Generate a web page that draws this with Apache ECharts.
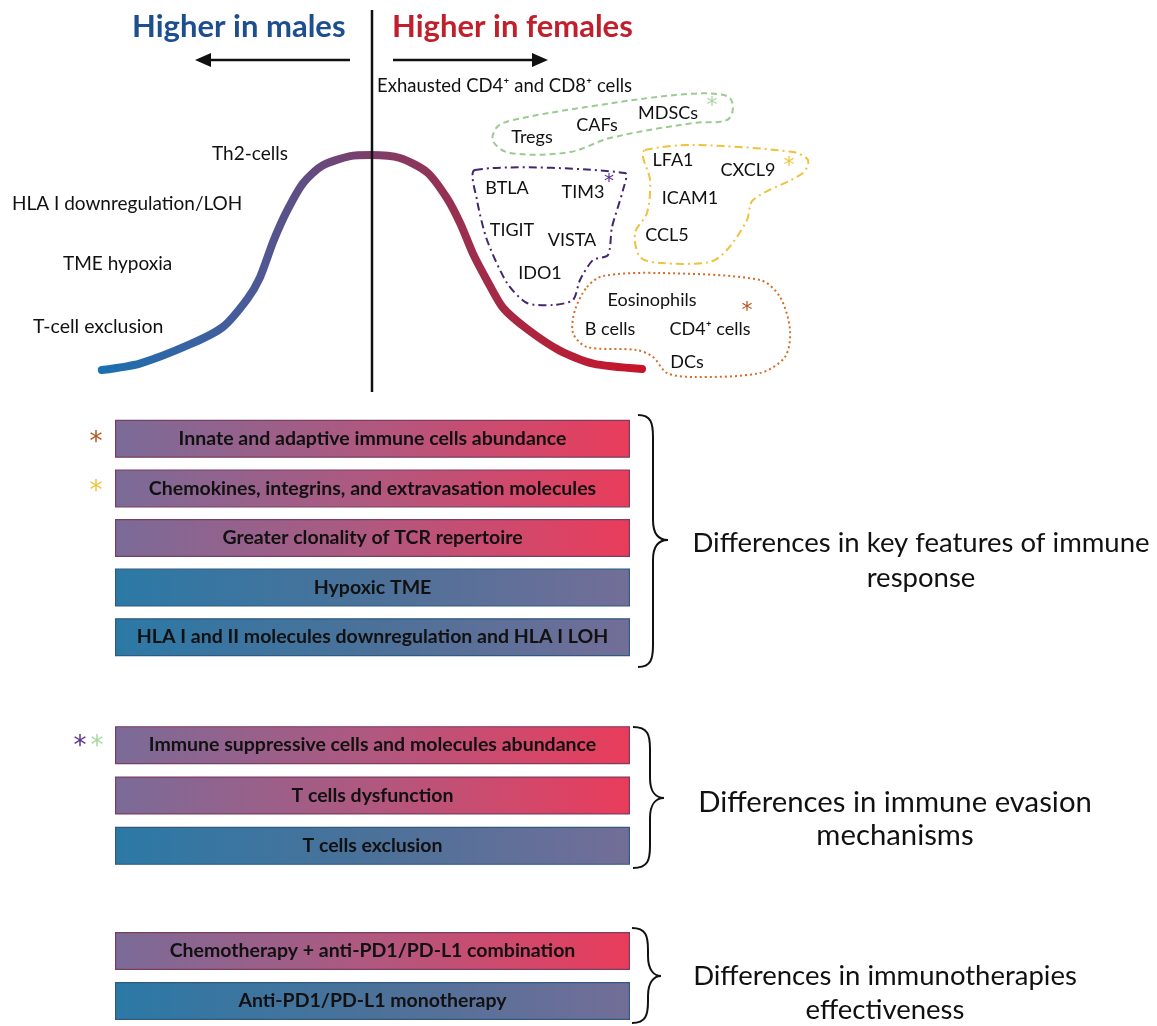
<!DOCTYPE html>
<html><head><meta charset="utf-8">
<script src="https://cdn.jsdelivr.net/npm/echarts@6/dist/echarts.min.js"></script>
<style>html,body{margin:0;padding:0;background:#fff}#c{width:1157px;height:1026px}</style>
</head><body><div id="c"></div>
<script>
// ---------- data ----------
const curveX = [-2.98, -2.56, -2.00, -1.64, -1.37, -1.23, -1.08, -0.93, -0.75, -0.54, -0.23, 0.00, 0.32, 0.62, 0.84, 0.99, 1.13, 1.28, 1.46, 1.73, 2.09, 2.46, 3.00];
const curveY = [0.00, 0.03, 0.12, 0.20, 0.33, 0.43, 0.60, 0.74, 0.87, 0.95, 0.995, 1.00, 0.986, 0.92, 0.80, 0.68, 0.54, 0.42, 0.29, 0.19, 0.09, 0.03, 0.005];
const titleMales = 'Higher in males';
const titleFemales = 'Higher in females';
const maleFeatures = ['Th2-cells', 'HLA I downregulation/LOH', 'TME hypoxia', 'T-cell exclusion'];
const exhaustedLabel = 'Exhausted CD4\u207A and CD8\u207A cells';
const greenGroup = ['Tregs', 'CAFs', 'MDSCs'];
const purpleGroup = ['BTLA', 'TIM3', 'TIGIT', 'VISTA', 'IDO1'];
const yellowGroup = ['LFA1', 'CXCL9', 'ICAM1', 'CCL5'];
const orangeGroup = ['Eosinophils', 'B cells', 'CD4\u207A cells', 'DCs'];
const responseFeatures = ['Innate and adaptive immune cells abundance', 'Chemokines, integrins, and extravasation molecules', 'Greater clonality of TCR repertoire', 'Hypoxic TME', 'HLA I and II molecules downregulation and HLA I LOH'];
const responseSide = ['F', 'F', 'F', 'M', 'M'];
const responseValues = [1, 1, 1, 1, 1];
const evasionFeatures = ['Immune suppressive cells and molecules abundance', 'T cells dysfunction', 'T cells exclusion'];
const evasionSide = ['F', 'F', 'M'];
const evasionValues = [1, 1, 1];
const therapyFeatures = ['Chemotherapy + anti-PD1/PD-L1 combination', 'Anti-PD1/PD-L1 monotherapy'];
const therapySide = ['F', 'M'];
const therapyValues = [1, 1];
const sectionTitles = ['Differences in key features of immune\nresponse', 'Differences in immune evasion\nmechanisms', 'Differences in immunotherapies\neffectiveness'];

// ---------- styling ----------
const FONT = 'Lato';
const LG = echarts.graphic.LinearGradient;
function barFill(side) {
  return side === 'F'
    ? new LG(0, 0, 1, 0, [{offset: 0, color: '#7a6b98'}, {offset: 0.5, color: '#b1587f'}, {offset: 1, color: '#ea3c5b'}])
    : new LG(0, 0, 1, 0, [{offset: 0, color: '#2c79a6'}, {offset: 0.5, color: '#4b7199'}, {offset: 1, color: '#736e98'}]);
}
function barBorder(side) {
  return side === 'F' ? '#7d3c62' : '#2f5a82';
}
function barData(values, side) {
  return values.map((v, i) => ({value: v, itemStyle: {color: barFill(side[i]), borderColor: barBorder(side[i]), borderWidth: 1.2}}));
}
const barLabel = {show: true, position: 'inside', formatter: '{b}', color: '#111', fontFamily: FONT, fontWeight: 'bold', fontSize: 19.5};

function txt(text, x, y, opt) {
  return {type: 'text', x: x, y: y, z: 10, style: Object.assign({text: text, fontFamily: FONT, fontSize: 18, fill: '#111', align: 'left', verticalAlign: 'middle'}, (opt || {}))};
}
function star(x, y, color, size) {
  return txt('*', x, y, {align: 'center', fontSize: size, fontFamily: 'DejaVu Sans', fill: color});
}
function blob(points, stroke, dash, smooth) {
  return {type: 'polygon', z: 5, shape: {points: points, smooth: smooth}, style: {fill: 'none', stroke: stroke, lineWidth: 2, lineDash: dash}};
}
const braceStyle = {fill: 'none', stroke: '#111', lineWidth: 2};
function bz(x1, y1, c1x, c1y, c2x, c2y, x2, y2) {
  return {type: 'bezierCurve', z: 5, shape: {x1: x1, y1: y1, cpx1: c1x, cpy1: c1y, cpx2: c2x, cpy2: c2y, x2: x2, y2: y2}, style: braceStyle};
}
function ln(x1, y1, x2, y2) {
  return {type: 'line', z: 5, shape: {x1: x1, y1: y1, x2: x2, y2: y2}, style: braceStyle};
}
function brace(x0, xv, xt, y1, ym, y2) {
  return [
    bz(x0, y1, xv - 2, y1, xv, y1 + 8, xv, y1 + 22),
    ln(xv, y1 + 22, xv, ym - 20),
    bz(xv, ym - 20, xv, ym - 6, xv + 6, ym, xt, ym),
    bz(xt, ym, xv + 6, ym, xv, ym + 6, xv, ym + 20),
    ln(xv, ym + 20, xv, y2 - 22),
    bz(xv, y2 - 22, xv, y2 - 8, xv - 2, y2, x0, y2)
  ];
}
function arrow(xs, xe, y) {
  const d = xe < xs ? -1 : 1;
  return [
    {type: 'line', z: 5, shape: {x1: xs, y1: y, x2: xe - d * 8, y2: y}, style: {stroke: '#111', lineWidth: 2.5}},
    {type: 'polygon', z: 5, shape: {points: [[xe, y], [xe - d * 16, y - 7], [xe - d * 16, y + 7]]}, style: {fill: '#111'}}
  ];
}

const graphics = [
  txt(titleMales, 132, 27, {fontSize: 31, fontWeight: 'bold', fill: '#1d4f8f'}),
  txt(titleFemales, 392, 27, {fontSize: 31, fontWeight: 'bold', fill: '#c01f2c'}),
  {type: 'line', z: 6, shape: {x1: 372, y1: 10, x2: 372, y2: 392}, style: {stroke: '#111', lineWidth: 2.5}},
  ...arrow(350, 195, 60),
  ...arrow(393, 548, 60),
  txt(maleFeatures[0], 212, 154, {fontSize: 19}),
  txt(maleFeatures[1], 12, 204, {fontSize: 19}),
  txt(maleFeatures[2], 63, 264, {fontSize: 19}),
  txt(maleFeatures[3], 33, 327, {fontSize: 19.5}),
  txt(exhaustedLabel, 377, 86, {fontSize: 18.5}),
  // green group
  blob([[513, 120], [593, 106], [687, 94], [727, 96], [733, 107], [727, 120], [693, 123], [610, 138], [570, 152], [510, 153], [493, 141], [497, 127]], '#9ccb90', [6, 4], 0.35),
  txt(greenGroup[0], 532, 137, {align: 'center'}),
  txt(greenGroup[1], 597, 125, {align: 'center'}),
  txt(greenGroup[2], 668, 113, {align: 'center'}),
  star(712, 106, '#a8d6a0', 22),
  // purple group
  blob([[475, 170], [625, 173], [623, 190], [612, 227], [608, 255], [593, 260], [580, 280], [573, 300], [553, 305], [527, 303], [507, 283], [487, 240], [477, 200]], '#44266f', [8, 4, 2, 4], 0.25),
  txt(purpleGroup[0], 507, 188, {align: 'center'}),
  txt(purpleGroup[1], 583, 192, {align: 'center'}),
  star(609, 182, '#5b2d8c', 20),
  txt(purpleGroup[2], 512, 230, {align: 'center'}),
  txt(purpleGroup[3], 572, 240, {align: 'center'}),
  txt(purpleGroup[4], 540, 273, {align: 'center'}),
  // yellow group
  blob([[645, 150], [693, 145], [793, 152], [808, 160], [803, 173], [753, 200], [747, 220], [727, 250], [710, 262], [660, 263], [640, 257], [635, 233], [647, 213], [650, 180], [643, 157]], '#efc13c', [8, 4, 2, 4], 0.3),
  txt(yellowGroup[0], 673, 160, {align: 'center'}),
  txt(yellowGroup[1], 748, 170, {align: 'center'}),
  star(789, 166, '#f2c33c', 22),
  txt(yellowGroup[2], 690, 198, {align: 'center'}),
  txt(yellowGroup[3], 667, 235, {align: 'center'}),
  // orange group
  blob([[587, 287], [603, 276], [660, 273], [760, 280], [780, 297], [790, 330], [785, 357], [760, 373], [693, 377], [667, 373], [653, 357], [637, 350], [587, 347], [573, 333], [575, 310]], '#d86c26', [2, 3], 0.3),
  txt(orangeGroup[0], 652, 300, {align: 'center'}),
  star(747, 311, '#b4551c', 22),
  txt(orangeGroup[1], 610, 329, {align: 'center'}),
  txt(orangeGroup[2], 710, 329, {align: 'center'}),
  txt(orangeGroup[3], 687, 362, {align: 'center'}),
  // asterisks next to bars
  star(96, 443, '#b4551c', 26),
  star(96, 492, '#f2c33c', 26),
  star(80, 747, '#5b2d8c', 26),
  star(97, 747, '#a8d6a0', 26),
  // braces
  ...brace(638, 653, 668, 415, 540, 667),
  ...brace(633, 650, 664, 727, 798, 868),
  ...brace(632, 648, 661, 928, 976, 1023),
  // side titles
  txt(sectionTitles[0], 921, 561, {align: 'center', fontSize: 27.5, lineHeight: 35}),
  txt(sectionTitles[1], 895, 819, {align: 'center', fontSize: 29.3, lineHeight: 33}),
  txt(sectionTitles[2], 885, 993, {align: 'center', fontSize: 27.5, lineHeight: 34})
];

const barGrid = (top, height) => ({left: 115, width: 515, top: top, height: height});
const option = {
  animation: false,
  backgroundColor: '#ffffff',
  grid: [
    {left: 100, top: 155, width: 542, height: 215},
    barGrid(414, 248),
    barGrid(720, 151),
    barGrid(926, 100)
  ],
  xAxis: [
    {gridIndex: 0, type: 'value', min: -3, max: 3, show: false},
    {gridIndex: 1, type: 'value', min: 0, max: 1, show: false},
    {gridIndex: 2, type: 'value', min: 0, max: 1, show: false},
    {gridIndex: 3, type: 'value', min: 0, max: 1, show: false}
  ],
  yAxis: [
    {gridIndex: 0, type: 'value', min: 0, max: 1, show: false},
    {gridIndex: 1, type: 'category', inverse: true, data: responseFeatures, show: false},
    {gridIndex: 2, type: 'category', inverse: true, data: evasionFeatures, show: false},
    {gridIndex: 3, type: 'category', inverse: true, data: therapyFeatures, show: false}
  ],
  series: [
    {
      type: 'line', xAxisIndex: 0, yAxisIndex: 0, smooth: 0.25, symbol: 'none', clip: false, z: 3,
      data: curveX.map((x, i) => [x, curveY[i]]),
      lineStyle: {width: 8, cap: 'round', color: new LG(0, 0, 1, 0, [
        {offset: 0, color: '#1a70b1'}, {offset: 0.28, color: '#4a5a97'}, {offset: 0.5, color: '#7e3d68'},
        {offset: 0.75, color: '#a82842'}, {offset: 1, color: '#c8142a'}])}
    },
    {type: 'bar', xAxisIndex: 1, yAxisIndex: 1, barWidth: 38, data: barData(responseValues, responseSide), label: barLabel},
    {type: 'bar', xAxisIndex: 2, yAxisIndex: 2, barWidth: 38, data: barData(evasionValues, evasionSide), label: barLabel},
    {type: 'bar', xAxisIndex: 3, yAxisIndex: 3, barWidth: 38, data: barData(therapyValues, therapySide), label: barLabel}
  ],
  graphic: graphics
};
const chart = echarts.init(document.getElementById('c'), null, {renderer: 'canvas'});
chart.setOption(option);
</script></body></html>
